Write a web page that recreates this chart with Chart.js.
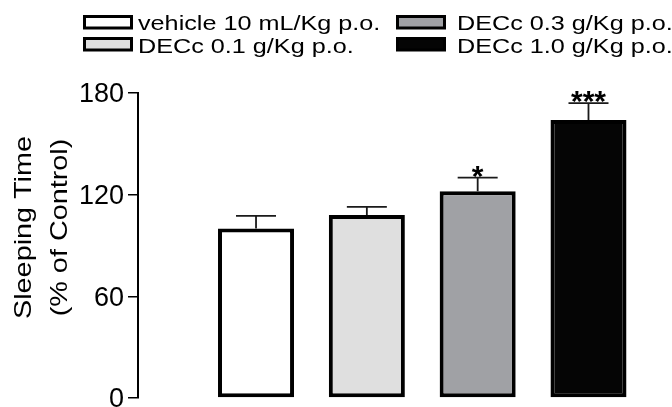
<!DOCTYPE html>
<html><head><meta charset="utf-8">
<script src="https://cdn.jsdelivr.net/npm/chart.js@4/dist/chart.umd.min.js"></script>
<style>html,body{margin:0;padding:0;background:#fff;overflow:hidden}#wrap{position:relative;width:672px;height:407px}canvas{display:block}</style>
</head><body><div id="wrap"><canvas id="c" width="672" height="407"></canvas></div>
<script>
// ---- data ----
const categories = ['vehicle 10 mL/Kg p.o.', 'DECc 0.1 g/Kg p.o.', 'DECc 0.3 g/Kg p.o.', 'DECc 1.0 g/Kg p.o.'];
const sleepingTime = [100, 108, 122, 164];
const semValues = [7.5, 4.8, 8, 10];
const significance = ['', '', '*', '***'];
const yTickValues = [0, 60, 120, 180];
const yTitle = ['Sleeping Time', '(% of Control)'];
const barFills = ['#ffffff', '#dfdfdf', '#a0a1a5', '#050505'];
const legendGrid = [[0, 2], [1, 3]]; // rows of legend (category indices)

const FONT = "'Liberation Sans', Arial, Helvetica, sans-serif";

const decorations = {
  id: 'decorations',
  afterDatasetsDraw(chart) {
    const ctx = chart.ctx, y = chart.scales.y, meta = chart.getDatasetMeta(0);
    ctx.save();
    meta.data.forEach((bar, i) => {
      const barTop = y.getPixelForValue(sleepingTime[i]);
      const errTop = y.getPixelForValue(sleepingTime[i] + semValues[i]);
      ctx.strokeStyle = '#1a1a1a';
      ctx.lineWidth = 1.8;
      ctx.beginPath();
      ctx.moveTo(bar.x, barTop);
      ctx.lineTo(bar.x, errTop);
      ctx.moveTo(bar.x - 20, errTop);
      ctx.lineTo(bar.x + 20, errTop);
      ctx.stroke();
      if (significance[i]) {
        ctx.fillStyle = '#000';
        ctx.font = 'bold 30px ' + FONT;
        ctx.textAlign = 'center';
        ctx.textBaseline = 'alphabetic';
        ctx.fillText(significance[i], bar.x, errTop + 8);
      }
    });
    ctx.restore();
  },
  afterDraw(chart) {
    const ctx = chart.ctx, area = chart.chartArea;
    ctx.save();
    // y axis title (two lines, rotated)
    ctx.fillStyle = '#000';
    ctx.font = '24px ' + FONT;
    ctx.textAlign = 'center';
    ctx.textBaseline = 'middle';
    const cy = (area.top + area.bottom) / 2 - 18;
    const lineX = [24, 60.5];
    yTitle.forEach((t, k) => {
      ctx.save();
      ctx.translate(lineX[k], cy);
      ctx.rotate(-Math.PI / 2);
      ctx.scale(1.2, 1);
      ctx.fillText(t, 0, 0);
      ctx.restore();
    });
    // legend
    const colBox = [83, 396], colText = [138, 457], rowTop = [15, 37], rowBase = [30, 52.5];
    ctx.font = '21px ' + FONT;
    ctx.textAlign = 'left';
    ctx.textBaseline = 'alphabetic';
    legendGrid.forEach((row, r) => {
      row.forEach((idx, c) => {
        ctx.fillStyle = barFills[idx];
        ctx.fillRect(colBox[c] + 1.5, rowTop[r] + 1.5, 47, 11.5);
        ctx.strokeStyle = '#000';
        ctx.lineWidth = 3;
        ctx.strokeRect(colBox[c] + 1.5, rowTop[r] + 1.5, 47, 11.5);
        ctx.fillStyle = '#000';
        ctx.save();
        ctx.translate(colText[c], rowBase[r]);
        ctx.scale(1.2, 1);
        ctx.fillText(categories[idx], 0, 0);
        ctx.restore();
      });
    });
    ctx.restore();
  }
};

new Chart(document.getElementById('c'), {
  type: 'bar',
  data: {
    datasets: [{
      label: 'Sleeping Time',
      data: sleepingTime.map((v, i) => ({ x: i, y: v })),
      backgroundColor: barFills,
      borderColor: '#000',
      borderWidth: 4,
      borderSkipped: false,
      barPercentage: 0.686,
      categoryPercentage: 1
    }]
  },
  options: {
    responsive: false,
    animation: false,
    devicePixelRatio: 1,
    layout: { padding: { top: 93, bottom: 9, left: 0, right: 22 } },
    plugins: { legend: { display: false }, tooltip: { enabled: false } },
    scales: {
      x: {
        type: 'linear', display: false, min: -1.065, max: 3.555, offset: false,
        afterBuildTicks: s => { s.ticks = categories.map((_, i) => ({ value: i })); }
      },
      y: {
        type: 'linear', min: 0, max: 180,
        afterBuildTicks: s => { s.ticks = yTickValues.map(v => ({ value: v })); },
        afterFit: s => { s.width = 138; s.paddingTop = 0; s.paddingBottom = 0; },
        ticks: { color: '#000', font: { family: FONT, size: 27 }, padding: 4, labelOffset: 2 },
        grid: { drawOnChartArea: false, drawTicks: true, tickLength: 10, color: '#000', lineWidth: 1.5 },
        border: { display: true, color: '#000', width: 2 },
        title: { display: false }
      }
    }
  },
  plugins: [decorations]
});
</script>
</body></html>
